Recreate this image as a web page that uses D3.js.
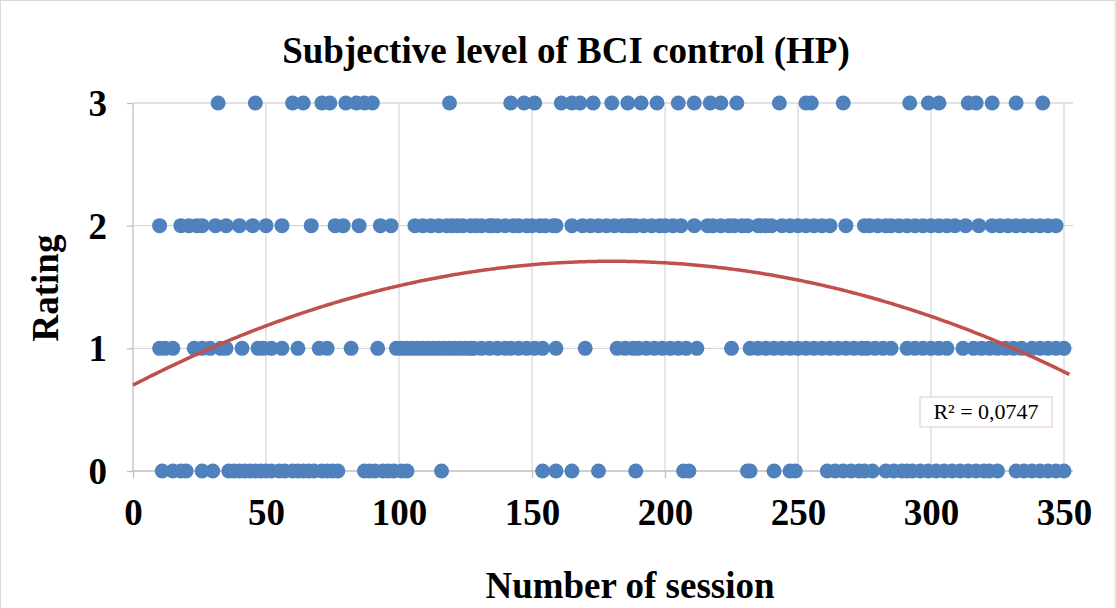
<!DOCTYPE html>
<html>
<head>
<meta charset="utf-8">
<script src="https://cdn.jsdelivr.net/npm/d3@7"></script>
<style>
  html, body { margin: 0; padding: 0; background: #fff; }
  svg { display: block; }
  text { font-family: "Liberation Serif", "Times New Roman", serif; }
</style>
</head>
<body>
<svg id="chart" width="1116" height="608"></svg>
<script>
// Sessions (x) grouped by the rating given (y)
const sessionsRating3 = [32, 46, 60, 64, 71, 74, 80, 84, 87, 90, 119, 142, 147, 151, 161, 165, 168, 173, 180, 186, 191, 197, 205, 211, 217, 221, 227, 243, 253, 255, 267, 292, 299, 303, 314, 317, 323, 332, 342];
const sessionsRating2 = [10, 18, 21, 24, 26, 31, 35, 40, 45, 50, 56, 67, 76, 79, 85, 93, 97, 106, 109, 112, 115, 118, 120, 122, 124, 127, 129, 131, 134, 135, 137, 140, 143, 145, 148, 150, 153, 155, 158, 159, 165, 169, 172, 175, 178, 181, 184, 186, 187, 189, 192, 195, 198, 200, 203, 206, 211, 216, 218, 221, 224, 226, 229, 231, 235, 236, 238, 240, 244, 247, 250, 253, 256, 259, 262, 268, 275, 277, 280, 283, 285, 288, 291, 294, 297, 300, 303, 306, 309, 313, 318, 323, 326, 329, 332, 335, 338, 341, 344, 347];
const sessionsRating1 = [10, 12, 15, 23, 26, 29, 33, 35, 41, 47, 49, 52, 56, 62, 70, 73, 82, 92, 99, 101, 103, 105, 107, 109, 111, 113, 115, 117, 119, 121, 123, 125, 127, 128, 131, 134, 137, 140, 142, 145, 148, 151, 154, 159, 170, 182, 185, 188, 190, 193, 196, 199, 202, 205, 208, 212, 225, 232, 235, 238, 241, 244, 247, 250, 253, 256, 259, 262, 265, 268, 271, 274, 276, 279, 282, 285, 291, 294, 297, 300, 303, 306, 312, 316, 319, 322, 325, 328, 331, 334, 338, 341, 344, 347, 350];
const sessionsRating0 = [11, 15, 18, 20, 26, 30, 36, 38, 40, 42, 44, 46, 48, 50, 52, 55, 57, 60, 62, 64, 66, 68, 71, 73, 75, 77, 87, 89, 91, 94, 96, 98, 101, 103, 116, 154, 159, 165, 175, 189, 207, 209, 231, 232, 241, 247, 249, 261, 264, 267, 270, 273, 275, 278, 283, 286, 289, 291, 293, 296, 299, 302, 305, 308, 311, 314, 317, 320, 322, 325, 332, 335, 338, 341, 344, 347, 350];

// Axis ticks
const xTicks = [0, 50, 100, 150, 200, 250, 300, 350];
const yTicks = [0, 1, 2, 3];

// Polynomial (order 2) trend: y = c0 + c1*x + c2*x^2
const trendCoefficients = [0.70, 0.01122, -0.00003117];
const trendRange = [0, 352];
const rSquaredLabel = "R² = 0,0747";

const titleText = "Subjective level of BCI control (HP)";
const xAxisTitle = "Number of session";
const yAxisTitle = "Rating";

const points = [
  ...sessionsRating0.map(x => ({ x, y: 0 })),
  ...sessionsRating1.map(x => ({ x, y: 1 })),
  ...sessionsRating2.map(x => ({ x, y: 2 })),
  ...sessionsRating3.map(x => ({ x, y: 3 }))
];

const svg = d3.select("#chart");
const W = 1116, H = 608;
const plot = { left: 133, right: 1064, top: 103, bottom: 471, gridEnd: 1073 };
const serif = "Liberation Serif, Times New Roman, serif";

const x = d3.scaleLinear().domain([0, 350]).range([plot.left, plot.right]);
const y = d3.scaleLinear().domain([0, 3]).range([plot.bottom, plot.top]);

// Outer chart frame
svg.append("rect")
  .attr("x", 0.5).attr("y", 0.5)
  .attr("width", W - 1.5).attr("height", H + 10)
  .attr("fill", "#fff").attr("stroke", "#d9d9d9").attr("stroke-width", 1);

// Gridlines
const grid = svg.append("g").attr("stroke", "#d9d9d9").attr("stroke-width", 1.3);
grid.selectAll(".hg").data(yTicks.filter(d => d > 0)).join("line")
  .attr("x1", plot.left).attr("x2", plot.gridEnd)
  .attr("y1", d => y(d)).attr("y2", d => y(d));
grid.selectAll(".vg").data(xTicks.filter(d => d > 0)).join("line")
  .attr("x1", d => x(d)).attr("x2", d => x(d))
  .attr("y1", plot.top).attr("y2", plot.bottom);

// Axes
const xAxis = d3.axisBottom(x).tickValues(xTicks).tickSize(7).tickFormat(d3.format("d"));
const gx = svg.append("g").attr("transform", `translate(0,${plot.bottom})`).call(xAxis);
gx.select(".domain").remove();
gx.append("line").attr("x1", plot.left).attr("x2", plot.gridEnd).attr("y1", 0).attr("y2", 0)
  .attr("stroke", "#bfbfbf").attr("stroke-width", 1.3);
gx.selectAll(".tick line").attr("stroke", "#bfbfbf").attr("stroke-width", 1.3);
gx.selectAll(".tick text")
  .attr("y", 54).attr("dy", null)
  .attr("fill", "#000").attr("font-size", 37).attr("font-weight", "bold")
  .attr("font-family", serif);

const yAxis = d3.axisLeft(y).tickValues(yTicks).tickSize(6).tickFormat(d3.format("d"));
const gy = svg.append("g").attr("transform", `translate(${plot.left},0)`).call(yAxis);
gy.select(".domain").remove();
gy.append("line").attr("x1", 0).attr("x2", 0).attr("y1", plot.top).attr("y2", plot.bottom)
  .attr("stroke", "#bfbfbf").attr("stroke-width", 1.3);
gy.selectAll(".tick line").attr("stroke", "#bfbfbf").attr("stroke-width", 1.3);
gy.selectAll(".tick text")
  .attr("x", -26).attr("dy", "0.34em")
  .attr("fill", "#000").attr("font-size", 37).attr("font-weight", "bold")
  .attr("font-family", serif);

// Scatter points
svg.append("g").selectAll("circle").data(points).join("circle")
  .attr("cx", d => x(d.x)).attr("cy", d => y(d.y))
  .attr("r", 7.5)
  .attr("fill", "#4f81bd");

// Trend curve
const trendFn = v => trendCoefficients[0] + trendCoefficients[1] * v + trendCoefficients[2] * v * v;
const trendData = d3.range(trendRange[0], trendRange[1] + 0.5, 1).map(v => ({ x: v, y: trendFn(v) }));
svg.append("path")
  .datum(trendData)
  .attr("fill", "none")
  .attr("stroke", "#c0504d")
  .attr("stroke-width", 3.5)
  .attr("d", d3.line().x(d => x(d.x)).y(d => y(d.y)));

// R² label box
const rBox = svg.append("g").attr("transform", "translate(920,397)");
rBox.append("rect").attr("width", 132).attr("height", 30)
  .attr("fill", "#fff").attr("stroke", "#e6c8c8").attr("stroke-width", 1);
rBox.append("text").attr("x", 66).attr("y", 22).attr("text-anchor", "middle")
  .attr("font-size", 22).attr("fill", "#000").text(rSquaredLabel);

// Titles
svg.append("text").attr("x", 566).attr("y", 63).attr("text-anchor", "middle")
  .attr("font-size", 37).attr("font-weight", "bold").attr("fill", "#000").text(titleText);
svg.append("text").attr("x", 630).attr("y", 598).attr("text-anchor", "middle")
  .attr("font-size", 37).attr("font-weight", "bold").attr("fill", "#000").text(xAxisTitle);
svg.append("text").attr("transform", "translate(58,288) rotate(-90)").attr("text-anchor", "middle")
  .attr("font-size", 37).attr("font-weight", "bold").attr("fill", "#000").text(yAxisTitle);
</script>
</body>
</html>
